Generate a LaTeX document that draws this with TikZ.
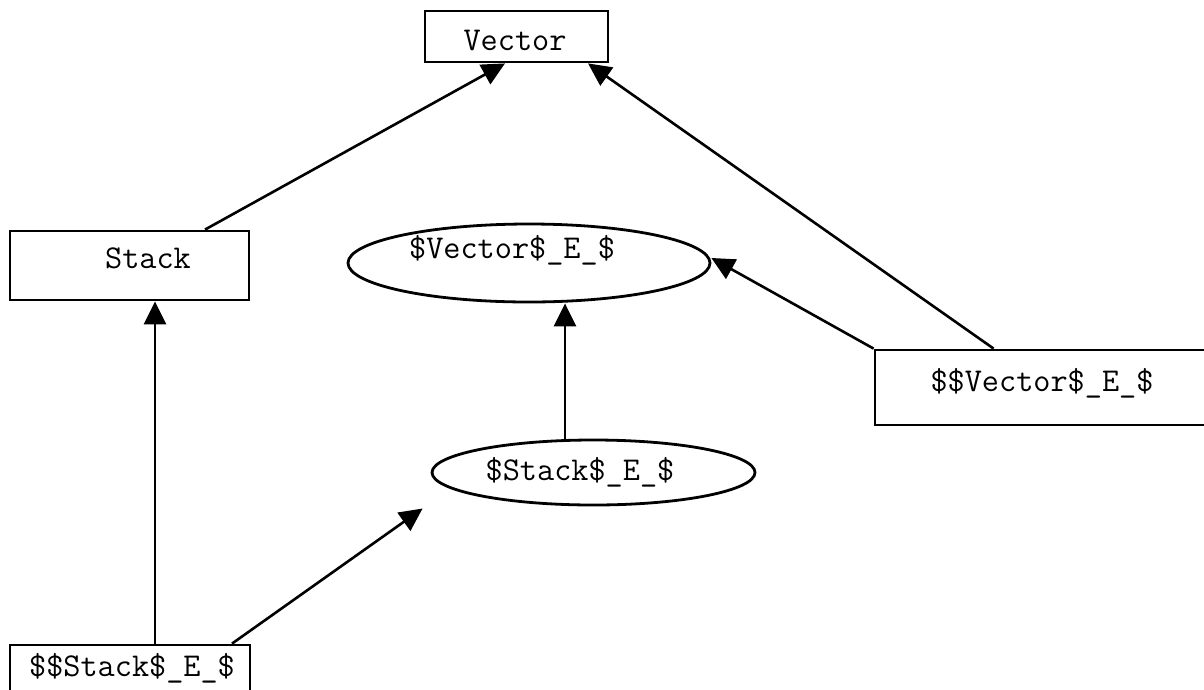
\documentclass[tikz,border=0pt]{standalone}
\usetikzlibrary{arrows.meta,shapes.geometric}
\begin{document}
\begin{tikzpicture}[x=1pt,y=-1pt,
  box/.style={draw, line width=2.8pt, rectangle, inner sep=0pt},
  oval/.style={draw, line width=2.8pt, ellipse, inner sep=0pt},
  lbl/.style={font=\fontsize{33.3}{37}\selectfont\ttfamily, inner sep=0pt},
  link/.style={line width=2.6pt, -{Triangle[length=23pt,width=22pt]}}]
\useasboundingbox (0,0) rectangle (1204,689);
\clip (0,0) rectangle (1204,689);
% shapes
\node[box, minimum width=183pt, minimum height=51pt] (vector) at (516.5,36.5) {};
\node[lbl] (vectort) at (515,40) {Vector};
\node[box, minimum width=239pt, minimum height=69pt] (stack) at (129.5,265.5) {};
\node[lbl] (stackt) at (148,258) {Stack};
\node[oval, minimum width=362pt, minimum height=78pt] (ve) at (529,263) {};
\node[lbl] (vet) at (512,250) {\$Vector\$\_E\_\$};
\node[box, minimum width=350pt, minimum height=75pt] (vv) at (1050,387.5) {};
\node[lbl] (vvt) at (1042,383) {\$\$Vector\$\_E\_\$};
\node[oval, minimum width=323pt, minimum height=65pt] (se) at (593.5,472.5) {};
\node[lbl] (set) at (580,472) {\$Stack\$\_E\_\$};
\node[box, minimum width=240pt, minimum height=90pt] (ss) at (130,690) {};
\node[lbl] (sst) at (132,668) {\$\$Stack\$\_E\_\$};
% connectors
\draw[link] ([xshift=75.5pt]stack.north) -- ([xshift=-11.5pt]vector.south);
\draw[link] ([xshift=120pt]vv.north west) -- ([xshift=71.5pt]vector.south);
\draw[link] (vv.north west) -- ([yshift=5pt]ve.east);
\draw[link] ([xshift=-28.5pt]se.north) -- ([xshift=-28.5pt]se.north |- ve.south);
\draw[link] ([xshift=25pt]ss.north) -- ([xshift=25pt]ss.north |- stack.south);
\draw[link] ([xshift=102pt]ss.north) -- ([xshift=-8pt,yshift=-36pt]se.west);
\end{tikzpicture}
\end{document}
